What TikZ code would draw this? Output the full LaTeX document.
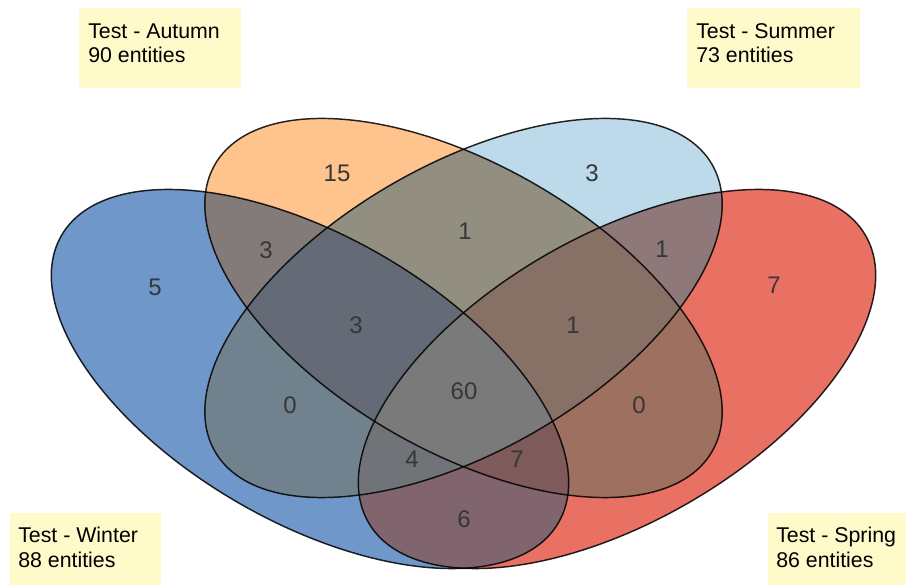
\documentclass[tikz,border=0pt]{standalone}
\usepackage{fontspec}
\setmainfont{Liberation Sans}
\definecolor{cB}{RGB}{112,151,201}
\definecolor{cO}{RGB}{255,196,142}
\definecolor{cL}{RGB}{188,218,233}
\definecolor{cR}{RGB}{232,113,99}
\definecolor{cBO}{RGB}{130,123,121}
\definecolor{cOL}{RGB}{146,142,128}
\definecolor{cLR}{RGB}{142,120,122}
\definecolor{cBL}{RGB}{112,130,142}
\definecolor{cOR}{RGB}{157,112,95}
\definecolor{cBR}{RGB}{128,100,110}
\definecolor{cBOL}{RGB}{100,106,118}
\definecolor{cOLR}{RGB}{135,112,102}
\definecolor{cBLR}{RGB}{112,116,120}
\definecolor{cBOR}{RGB}{126,90,90}
\definecolor{cBOLR}{RGB}{122,122,122}
\definecolor{boxfill}{RGB}{255,250,202}
\definecolor{numtext}{RGB}{55,55,55}
\newcommand\clipW{\clip[shift={(310,206)},rotate=-30] (0,0) ellipse (215.25pt and 107.25pt);}
\newcommand\clipA{\clip[shift={(463.5,277)},rotate=-30] (0,0) ellipse (215.25pt and 107.25pt);}
\newcommand\clipS{\clip[shift={(463.5,277)},rotate=30] (0,0) ellipse (215.25pt and 107.25pt);}
\newcommand\clipP{\clip[shift={(617,206)},rotate=30] (0,0) ellipse (215.25pt and 107.25pt);}
\newcommand\vregion[2]{\begin{scope}#1\fill[#2] (-10,-10) rectangle (920,600);\end{scope}}
\begin{document}
\begin{tikzpicture}[x=0.75pt,y=0.75pt,
  outl/.style={draw=black, line width=1.1pt, draw opacity=0.85},
  num/.style={font=\fontsize{18}{20}\selectfont, text=numtext, inner sep=0pt},
  boxnode/.style={fill=boxfill, draw=none, anchor=south west, inner sep=0pt},
  lbl/.style={font=\fontsize{16}{19}\selectfont, anchor=base west, inner sep=0pt, text=black}]
\useasboundingbox (0,0) rectangle (906,585);
% singles
\vregion{\clipW}{cB}
\vregion{\clipA}{cO}
\vregion{\clipS}{cL}
\vregion{\clipP}{cR}
% pairs
\vregion{\clipW\clipA}{cBO}
\vregion{\clipA\clipS}{cOL}
\vregion{\clipS\clipP}{cLR}
\vregion{\clipW\clipS}{cBL}
\vregion{\clipA\clipP}{cOR}
\vregion{\clipW\clipP}{cBR}
% triples
\vregion{\clipW\clipA\clipS}{cBOL}
\vregion{\clipA\clipS\clipP}{cOLR}
\vregion{\clipW\clipS\clipP}{cBLR}
\vregion{\clipW\clipA\clipP}{cBOR}
% all
\vregion{\clipW\clipA\clipS\clipP}{cBOLR}
% outlines
\draw[outl, shift={(310,206)}, rotate=-30] (0,0) ellipse (215.25pt and 107.25pt);
\draw[outl, shift={(463.5,277)}, rotate=-30] (0,0) ellipse (215.25pt and 107.25pt);
\draw[outl, shift={(463.5,277)}, rotate=30] (0,0) ellipse (215.25pt and 107.25pt);
\draw[outl, shift={(617,206)}, rotate=30] (0,0) ellipse (215.25pt and 107.25pt);
% counts
\node[num] (nW) at (155,298) {5};
\node[num] (nA) at (337,412) {15};
\node[num] (nS) at (592,412) {3};
\node[num] (nP) at (774,300) {7};
\node[num] (nWA) at (266,335) {3};
\node[num] (nAS) at (465,354) {1};
\node[num] (nSP) at (662,336) {1};
\node[num] (nWS) at (290,180) {0};
\node[num] (nAP) at (639,180) {0};
\node[num] (nWP) at (464,66) {6};
\node[num] (nWAS) at (356,260) {3};
\node[num] (nASP) at (573,260) {1};
\node[num] (nWSP) at (412,126) {4};
\node[num] (nWAP) at (517,126) {7};
\node[num] (nAll) at (464,194) {60};
% legend boxes
\node[boxnode, minimum width=121.5pt, minimum height=60pt] (bA) at (79,497) {};
\node[boxnode, minimum width=129.75pt, minimum height=60pt] (bS) at (687,497) {};
\node[boxnode, minimum width=113.25pt, minimum height=54pt] (bW) at (10,0) {};
\node[boxnode, minimum width=103.5pt, minimum height=54pt] (bP) at (768,0) {};
\node[lbl] (tA1) at (88,546) {Test - Autumn};
\node[lbl] (tA2) at (88,522) {90 entities};
\node[lbl] (tS1) at (696,546) {Test - Summer};
\node[lbl] (tS2) at (696,522) {73 entities};
\node[lbl] (tW1) at (18,42) {Test - Winter};
\node[lbl] (tW2) at (18,17) {88 entities};
\node[lbl] (tP1) at (776,42) {Test - Spring};
\node[lbl] (tP2) at (776,17) {86 entities};
\end{tikzpicture}
\end{document}
